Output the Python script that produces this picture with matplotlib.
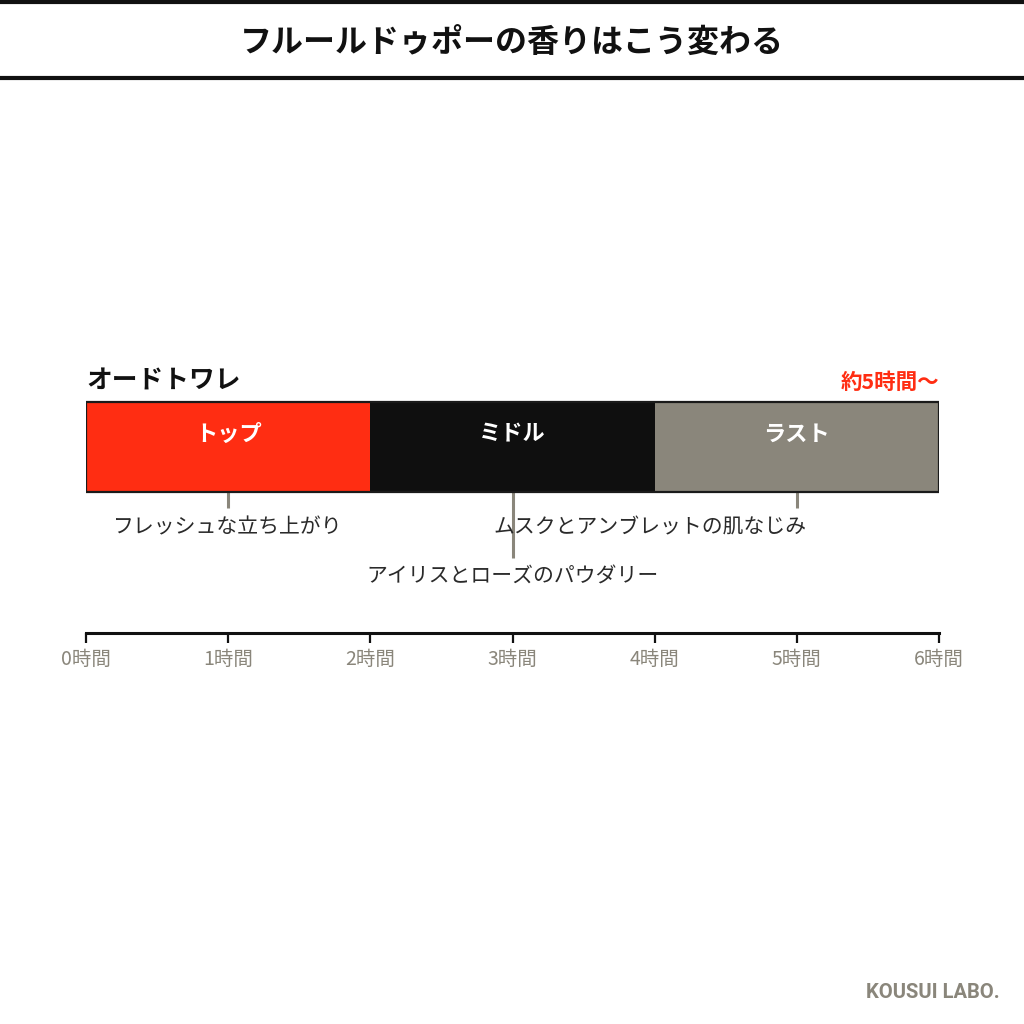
import matplotlib.pyplot as plt
from matplotlib.lines import Line2D

plt.rcParams["font.family"] = ["Noto Sans CJK JP", "DejaVu Sans"]

# ── data ─────────────────────────────────────────────────────────────────────
title = "フルールドゥポーの香りはこう変わる"
product = "オードトワレ"
duration_note = "約5時間〜"
phases = ["トップ", "ミドル", "ラスト"]
phase_start = [0, 2, 4]
phase_len = [2, 2, 2]
phase_colors = ["#ff2d12", "#0f0f0f", "#8a867b"]
note_pos = [1, 3, 5]
notes = ["フレッシュな立ち上がり", "アイリスとローズのパウダリー", "ムスクとアンブレットの肌なじみ"]
hours = [0, 1, 2, 3, 4, 5, 6]
hour_labels = [f"{h}時間" for h in hours]

GRAY = "#8a867b"
INK = "#111111"

# ── figure ───────────────────────────────────────────────────────────────────
W = H = 1024
fig = plt.figure(figsize=(W / 100, H / 100), dpi=100)
fig.patch.set_facecolor("white")

# header band
for y in (1.5, 77.5):
    fig.add_artist(Line2D([0, 1], [1 - y / H, 1 - y / H], transform=fig.transFigure,
                          color=INK, linewidth=3))
fig.text(0.5, 1 - 44 / H, title, ha="center", va="center",
         fontsize=23, fontweight="bold", color=INK)

# main axes: x in hours, y in pixels above the time axis
ax_top_px, ax_bot_px = 360, 633
ax = fig.add_axes([86 / W, 1 - ax_bot_px / H, 853 / W, (ax_bot_px - ax_top_px) / H])
ax.set_xlim(0, 6)
ax.set_ylim(0, ax_bot_px - ax_top_px)
ax.patch.set_alpha(0)

bar_y, bar_h = 633 - 447, 90
ax.barh(bar_y, phase_len, left=phase_start, height=bar_h,
        color=phase_colors, edgecolor="none", zorder=2)
ax.barh(bar_y, sum(phase_len), left=phase_start[0], height=bar_h,
        fill=False, edgecolor="#1a1a1a", linewidth=1.6, zorder=3)

for name, s, d in zip(phases, phase_start, phase_len):
    ax.text(s + d / 2, 633 - 434, name, ha="center", va="center",
            fontsize=16, fontweight="bold", color="white", zorder=4)

# leader lines and notes
bar_bottom = bar_y - bar_h / 2
line_ends = [633 - 508, 633 - 558, 633 - 508]
text_y = [633 - 527, 633 - 577, 633 - 527]
for i, (p, txt) in enumerate(zip(note_pos, notes)):
    ax.plot([p, p], [bar_bottom, line_ends[i]], color=GRAY, linewidth=2.2, zorder=1,
            solid_capstyle="butt")
    if i == 2:
        ax.annotate(txt, (p, text_y[i]), xytext=(7, 0), textcoords="offset points",
                    ha="right", va="center", fontsize=15, color="#2a2a2a")
    else:
        ax.text(p, text_y[i], txt, ha="center", va="center",
                fontsize=15, color="#2a2a2a")

ax.text(0, 633 - 381, product, ha="left", va="center",
        fontsize=18.5, fontweight="bold", color=INK)
ax.text(6, 633 - 382, duration_note, ha="right", va="center",
        fontsize=15.5, fontweight="bold", color="#ff2d12")

# time axis
ax.spines[["top", "right", "left"]].set_visible(False)
ax.spines["bottom"].set_linewidth(2.2)
ax.spines["bottom"].set_color(INK)
ax.set_yticks([])
ax.set_xticks(hours)
ax.set_xticklabels(hour_labels, fontsize=14, color=GRAY)
ax.tick_params(axis="x", direction="out", length=7.5, width=1.6, color=INK, pad=4)

fig.text(1000 / W, 1 - 993 / H, "KOUSUI LABO.", ha="right", va="center",
         fontsize=14.5, fontweight="bold", color=GRAY, family=["Roboto", "DejaVu Sans"])

fig.savefig("out.png", dpi=100)
